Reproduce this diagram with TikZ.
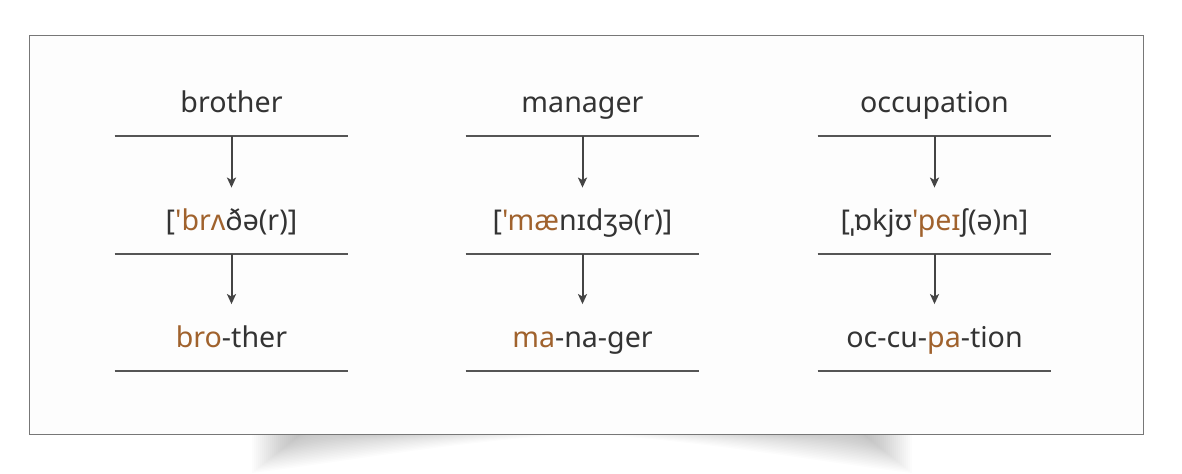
\documentclass[tikz,border=0pt]{standalone}
\usepackage{fontspec}
\setmainfont{Noto Sans}[Ligatures=TeXOff]
\usetikzlibrary{arrows.meta}

\definecolor{txt}{HTML}{333333}
\definecolor{hl}{HTML}{A0622D}
\definecolor{rulec}{HTML}{555555}
\definecolor{arrc}{HTML}{444444}
\definecolor{framec}{HTML}{777777}
\definecolor{paper}{HTML}{FDFDFD}

\begin{document}
\begin{tikzpicture}[x=0.5pt,y=-0.5pt,
  word/.style={anchor=base, inner sep=0pt, minimum width=116.5pt, text height=21.5pt, text depth=11.5pt, text=txt, font=\fontsize{14.3pt}{17pt}\selectfont},
  rule/.style={draw=rulec, line width=1pt},
  arr/.style={draw=arrc, line width=1pt, -{Stealth[length=5pt,width=4.5pt,inset=1.2pt]}},
  shadowlayer/.style={fill=black, fill opacity=0.013}]
\useasboundingbox (0,0) rectangle (1182,474);
% shadow under the card
\foreach \k in {0,...,26}{
  \fill[shadowlayer] (252+2*\k,434) -- (582-11*\k,434) .. controls (470-8*\k,439) and (330,464-2*\k) .. (252+2*\k,473-1.6*\k) -- cycle;
  \fill[shadowlayer] (912-2*\k,434) -- (582+11*\k,434) .. controls (694+8*\k,439) and (834,464-2*\k) .. (912-2*\k,473-1.6*\k) -- cycle;
}
% card
\draw[draw=framec, fill=paper, line width=0.5pt] (29,36) rectangle (1143,435);
% brother
\node[word] (w1) at (231.5,113) {brother};
\node[word] (p1) at (231.5,231) {[\textcolor{hl}{'brʌ}ðə(r)]};
\node[word] (s1) at (231.5,347.5) {\textcolor{hl}{bro}-ther};
% manager
\node[word] (w2) at (582.5,113) {manager};
\node[word] (p2) at (582.5,231) {[\textcolor{hl}{'mæ}nɪdʒə(r)]};
\node[word] (s2) at (582.5,347.5) {\textcolor{hl}{ma}-na-ger};
% occupation
\node[word] (w3) at (934.5,113) {occupation};
\node[word] (p3) at (934.5,231) {[ˌɒkjʊ\textcolor{hl}{'peɪ}ʃ(ə)n]};
\node[word] (s3) at (934.5,347.5) {oc-cu-\textcolor{hl}{pa}-tion};
% rules
\draw[rule] (w1.south west) -- (w1.south east);
\draw[rule] (p1.south west) -- (p1.south east);
\draw[rule] (s1.south west) -- (s1.south east);
\draw[rule] (w2.south west) -- (w2.south east);
\draw[rule] (p2.south west) -- (p2.south east);
\draw[rule] (s2.south west) -- (s2.south east);
\draw[rule] (w3.south west) -- (w3.south east);
\draw[rule] (p3.south west) -- (p3.south east);
\draw[rule] (s3.south west) -- (s3.south east);
% arrows
\draw[arr] (w1.south) -- (p1.north);
\draw[arr] (p1.south) -- (s1.north);
\draw[arr] (w2.south) -- (p2.north);
\draw[arr] (p2.south) -- (s2.north);
\draw[arr] (w3.south) -- (p3.north);
\draw[arr] (p3.south) -- (s3.north);
\end{tikzpicture}
\end{document}
